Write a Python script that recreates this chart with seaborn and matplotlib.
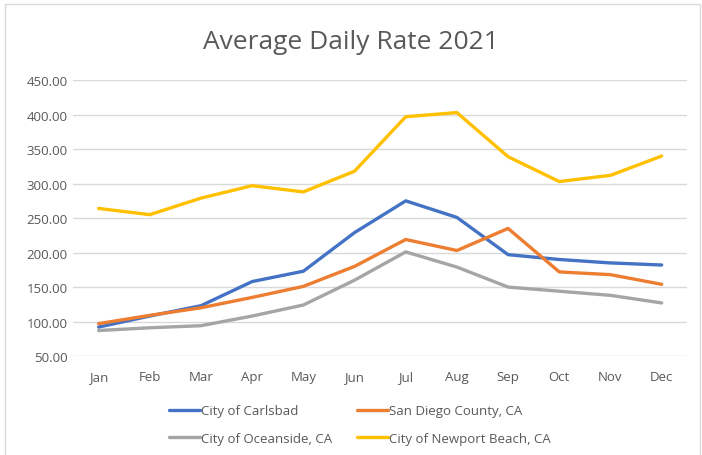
import pandas as pd
import numpy as np
import matplotlib.pyplot as plt
import seaborn as sns
from matplotlib.patches import Rectangle

months = ['Jan', 'Feb', 'Mar', 'Apr', 'May', 'Jun', 'Jul', 'Aug', 'Sep', 'Oct', 'Nov', 'Dec']
carlsbad = [92, 108, 123, 158, 173, 229, 275, 251, 197, 190, 185, 182]
san_diego = [97, 109, 120, 135, 151, 180, 219, 203, 235, 172, 168, 154]
oceanside = [87, 91, 94, 108, 124, 160, 201, 179, 150, 144, 138, 127]
newport = [264, 255, 279, 297, 288, 318, 397, 403, 339, 303, 312, 340]

series_names = ['City of Carlsbad', 'San Diego County, CA',
                'City of Oceanside, CA', 'City of Newport Beach, CA']
series_vals = [carlsbad, san_diego, oceanside, newport]
colors = ['#4472C4', '#ED7D31', '#A5A5A5', '#FFC000']

rows = []
for name, vals in zip(series_names, series_vals):
    for i, v in enumerate(vals):
        rows.append({'month': i, 'series': name, 'rate': v})
df = pd.DataFrame(rows)

sns.set_style('white')
plt.rcParams['font.family'] = ['Open Sans', 'DejaVu Sans']

fig = plt.figure(figsize=(7.02, 4.56), dpi=100)
ax = fig.add_axes([0.104, 0.217, 0.875, 0.605])

sns.lineplot(data=df, x='month', y='rate', hue='series', hue_order=series_names,
             palette=colors, linewidth=2.4, ax=ax, legend=False)

ax.set_xlim(-0.5, 11.5)
ax.set_ylim(50, 450)
ax.set_yticks(np.arange(50, 451, 50))
ax.set_yticklabels([f'{v:.2f}' for v in np.arange(50, 451, 50)])
ax.set_xticks(range(12))
ax.set_xticklabels(months)
ax.grid(axis='y', color='#D9D9D9', linewidth=1)
ax.set_axisbelow(True)
for s in ax.spines.values():
    s.set_visible(False)
ax.tick_params(axis='both', length=0, colors='#595959', labelsize=9.5)
ax.tick_params(axis='x', pad=10)
ax.tick_params(axis='y', pad=4)
ax.set_xlabel('')
ax.set_ylabel('')

fig.suptitle('Average Daily Rate 2021', y=0.935, fontsize=19, color='#595959')

# legend is filled column by column, so reorder to get rows like the original
order = [0, 2, 1, 3]
handles = [plt.Line2D([], [], color=colors[i], linewidth=2.4) for i in order]
labels = [series_names[i] for i in order]
fig.legend(handles, labels, loc='center', bbox_to_anchor=(0.513, 0.067), ncol=2,
           frameon=False, fontsize=9.5, handlelength=2.3, handletextpad=0.1,
           columnspacing=1.9, labelspacing=1.1, labelcolor='#595959')

fig.patches.append(Rectangle((0.007, -0.01), 0.99, 1.0, transform=fig.transFigure,
                             fill=False, edgecolor='#D9D9D9', linewidth=1))

fig.savefig('out.png', dpi=100)
